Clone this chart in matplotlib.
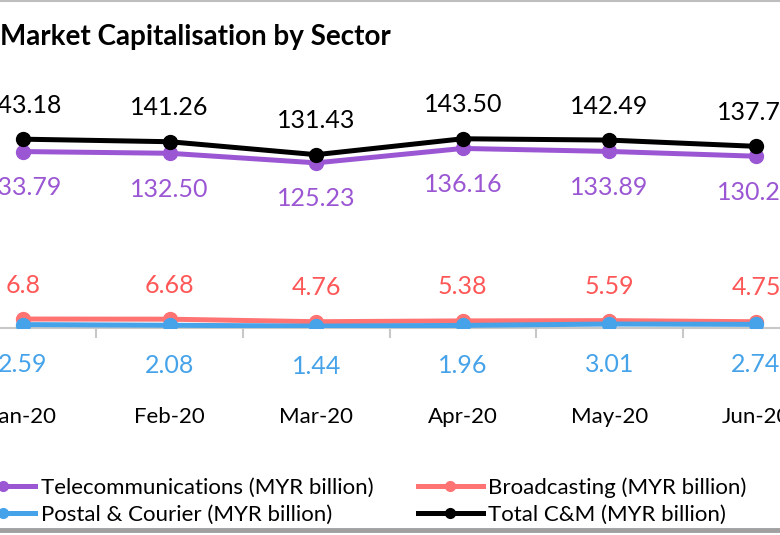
import numpy as np
import matplotlib.pyplot as plt
from matplotlib.lines import Line2D

plt.rcParams['font.family'] = ['Lato', 'DejaVu Sans']

months = ["Jan-20", "Feb-20", "Mar-20", "Apr-20", "May-20", "Jun-20"]
telco = [133.79, 132.50, 125.23, 136.16, 133.89, 130.27]
broadcast = [6.8, 6.68, 4.76, 5.38, 5.59, 4.75]
postal = [2.59, 2.08, 1.44, 1.96, 3.01, 2.74]
total = [143.18, 141.26, 131.43, 143.50, 142.49, 137.76]
broadcast_txt = ["6.8", "6.68", "4.76", "5.38", "5.59", "4.75"]

c_purple = "#9B57D3"
c_red = "#FF7373"
c_blue = "#46A3EA"

W, H = 780, 535
fig = plt.figure(figsize=(W / 100, H / 100), dpi=100)
# axes runs off both sides, like the cropped screenshot
ax = fig.add_axes([-50.3 / W, 207 / H, 879.6 / W, 211 / H])

x = np.arange(len(months))
lw, ms = 3.6, 10
l_tel, = ax.plot(x, telco, color=c_purple, lw=lw, marker="o", ms=ms, zorder=3)
l_brd, = ax.plot(x, broadcast, color=c_red, lw=lw, marker="o", ms=ms, zorder=3)
l_pos, = ax.plot(x, postal, color=c_blue, lw=lw, marker="o", ms=ms, zorder=4)
l_tot, = ax.plot(x, total, color="black", lw=lw, marker="o", ms=ms, zorder=5)

fs = 18
for i in range(len(months)):
    ax.annotate(f"{total[i]:.2f}", (x[i], total[i]), xytext=(0, 34),
                textcoords="offset pixels", ha="center", va="center",
                fontsize=fs, color="black")
    ax.annotate(f"{telco[i]:.2f}", (x[i], telco[i]), xytext=(0, -36),
                textcoords="offset pixels", ha="center", va="center",
                fontsize=fs, color=c_purple)
    ax.annotate(broadcast_txt[i], (x[i], broadcast[i]), xytext=(0, 34),
                textcoords="offset pixels", ha="center", va="center",
                fontsize=fs, color="#FF5757")
    ax.annotate(f"{postal[i]:.2f}", (x[i], postal[i]), xytext=(0, -40),
                textcoords="offset pixels", ha="center", va="center",
                fontsize=fs, color=c_blue)

ax.set_xlim(-0.5, len(months) - 0.5)
ax.set_ylim(0, 160)
for s in ["top", "left", "right"]:
    ax.spines[s].set_visible(False)
ax.spines["bottom"].set_color("#C8C8C8")
ax.spines["bottom"].set_linewidth(1.5)
ax.set_yticks([])
ax.set_xticks(x)
ax.set_xticklabels(months, fontsize=16)
ax.set_xticks(np.arange(0.5, len(months) - 0.5), minor=True)
ax.tick_params(axis="x", which="major", length=0, pad=57)
ax.tick_params(axis="x", which="minor", length=7, width=1.5, color="#C8C8C8")

fig.text(0 / W, 1 - 37 / H, "Market Capitalisation by Sector", fontsize=20,
         fontweight="bold", ha="left", va="center")

handles = [l_tel, l_pos, l_brd, l_tot]
labels = ["Telecommunications (MYR billion)", "Postal & Courier (MYR billion)",
          "Broadcasting (MYR billion)", "Total C&M (MYR billion)"]
fig.legend(handles, labels, ncol=2, loc="upper left",
           bbox_to_anchor=(-29 / W, 1 - 477 / H), frameon=False,
           borderpad=0, borderaxespad=0,
           fontsize=16, handlelength=2.9, handletextpad=0.25,
           columnspacing=2.0, labelspacing=0.32, markerscale=0.7)

# screenshot frame lines
fig.add_artist(Line2D([0, 1], [1 - 0.5 / H, 1 - 0.5 / H], color="#BEBEBE", lw=1.5))
fig.add_artist(Line2D([0, 1], [5 / H, 5 / H], color="#A0A0A0", lw=3.5))

fig.savefig("out.png", dpi=100)
